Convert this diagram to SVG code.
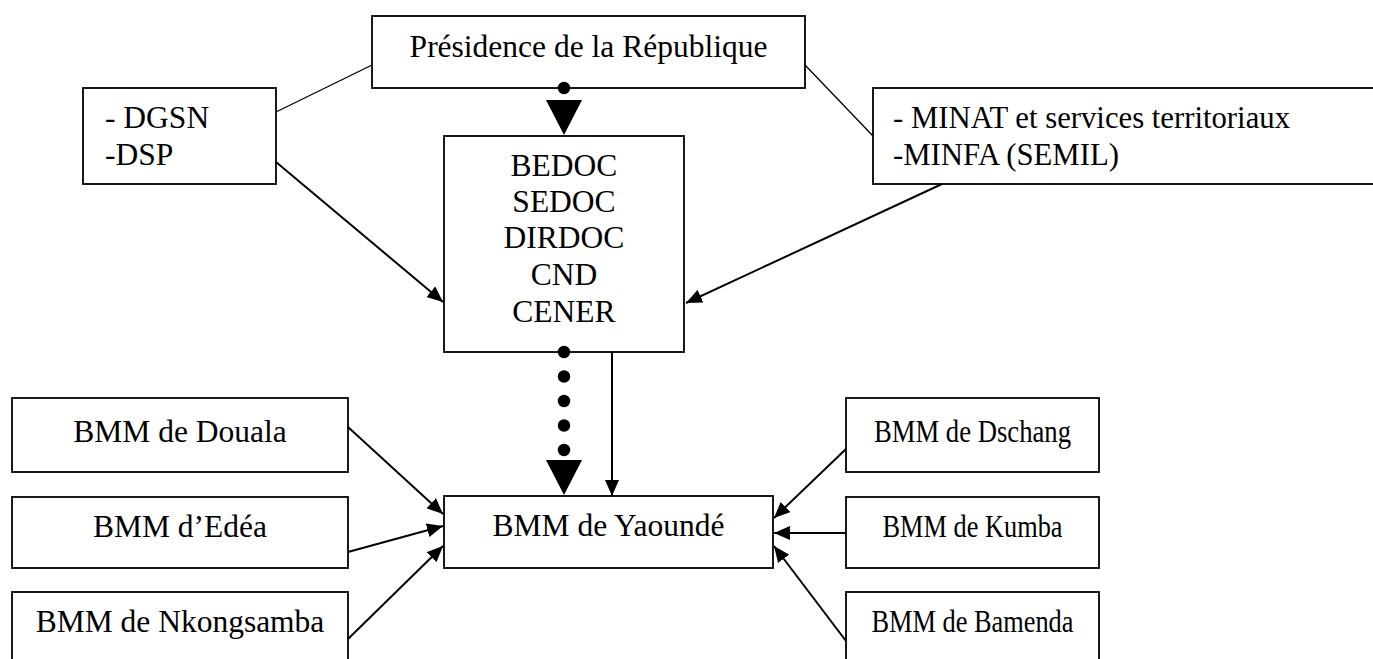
<svg xmlns="http://www.w3.org/2000/svg" width="1373" height="659" viewBox="0 0 1373 659">
<style>
.box{fill:#fff;stroke:#000;stroke-width:1.8}
.t{font-family:"Liberation Serif","Times New Roman",serif;font-size:31.5px;fill:#000}
.c{text-anchor:middle}
.ln{fill:none;stroke:#000;stroke-width:1.3}
.ar{fill:none;stroke:#000;stroke-width:2;marker-end:url(#arrow)}
.dots{fill:none;stroke:#000;stroke-width:12.5;stroke-linecap:round;stroke-dasharray:0 24.5;marker-end:url(#big)}
</style>
<defs>
<marker id="arrow" markerUnits="userSpaceOnUse" viewBox="0 0 16 14" refX="16" refY="7" markerWidth="16" markerHeight="14" orient="auto">
<path d="M0,0 L16,7 L0,14 z" fill="#000"/>
</marker>
<marker id="big" markerUnits="userSpaceOnUse" viewBox="0 0 35 36" refX="35" refY="18" markerWidth="35" markerHeight="36" orient="auto">
<path d="M0,0 L35,18 L0,36 z" fill="#000"/>
</marker>
</defs>
<rect width="1373" height="659" fill="#fff"/>
<g id="presidence">
<rect class="box" x="372" y="16" width="433" height="72"/>
<text class="t c" x="588.5" y="57">Présidence de la République</text>
</g>
<g id="dgsn">
<rect class="box" x="83" y="88" width="193" height="96"/>
<text class="t" x="105" y="128">- DGSN</text>
<text class="t" x="105" y="165">-DSP</text>
</g>
<g id="minat">
<rect class="box" x="873" y="88" width="520" height="96"/>
<text class="t" x="893" y="128" textLength="397" lengthAdjust="spacingAndGlyphs">- MINAT et services territoriaux</text>
<text class="t" x="893" y="165" textLength="226" lengthAdjust="spacingAndGlyphs">-MINFA (SEMIL)</text>
</g>
<g id="central">
<rect class="box" x="444" y="136" width="240" height="216"/>
<text class="t c" x="564" y="176">BEDOC</text>
<text class="t c" x="564" y="212">SEDOC</text>
<text class="t c" x="564" y="248">DIRDOC</text>
<text class="t c" x="564" y="285">CND</text>
<text class="t c" x="564" y="322">CENER</text>
</g>
<g id="yaounde">
<rect class="box" x="444" y="496" width="329" height="72"/>
<text class="t c" x="608.5" y="536">BMM de Yaoundé</text>
</g>
<g id="douala">
<rect class="box" x="12" y="398" width="336" height="74"/>
<text class="t c" x="180" y="442">BMM de Douala</text>
</g>
<g id="edea">
<rect class="box" x="12" y="497" width="336" height="71"/>
<text class="t c" x="180" y="537">BMM d’Edéa</text>
</g>
<g id="nkongsamba">
<rect class="box" x="12" y="592" width="336" height="80"/>
<text class="t c" x="180" y="632">BMM de Nkongsamba</text>
</g>
<g id="dschang">
<rect class="box" x="846" y="398" width="253" height="74"/>
<text class="t c" x="972.5" y="442" textLength="197" lengthAdjust="spacingAndGlyphs">BMM de Dschang</text>
</g>
<g id="kumba">
<rect class="box" x="846" y="497" width="253" height="71"/>
<text class="t c" x="972.5" y="537" textLength="180" lengthAdjust="spacingAndGlyphs">BMM de Kumba</text>
</g>
<g id="bamenda">
<rect class="box" x="846" y="592" width="253" height="80"/>
<text class="t c" x="972.5" y="632" textLength="202" lengthAdjust="spacingAndGlyphs">BMM de Bamenda</text>
</g>
<g id="connectors">
<path class="ln" d="M372,65 L276,112"/>
<path class="ln" d="M805,65 L873,136"/>
<path class="dots" d="M564,88 L564,135"/>
<path class="ar" d="M276,162 L443,302"/>
<path class="ar" d="M942,184 L686,303"/>
<path class="dots" d="M564,352 L564,495"/>
<path class="ar" d="M612,352 L612,496"/>
<path class="ar" d="M348,427 L443,514"/>
<path class="ar" d="M348,552 L443,526"/>
<path class="ar" d="M348,639 L443,546"/>
<path class="ar" d="M846,449 L774,518"/>
<path class="ar" d="M846,533 L774,533"/>
<path class="ar" d="M846,641 L774,546"/>
</g>
</svg>
